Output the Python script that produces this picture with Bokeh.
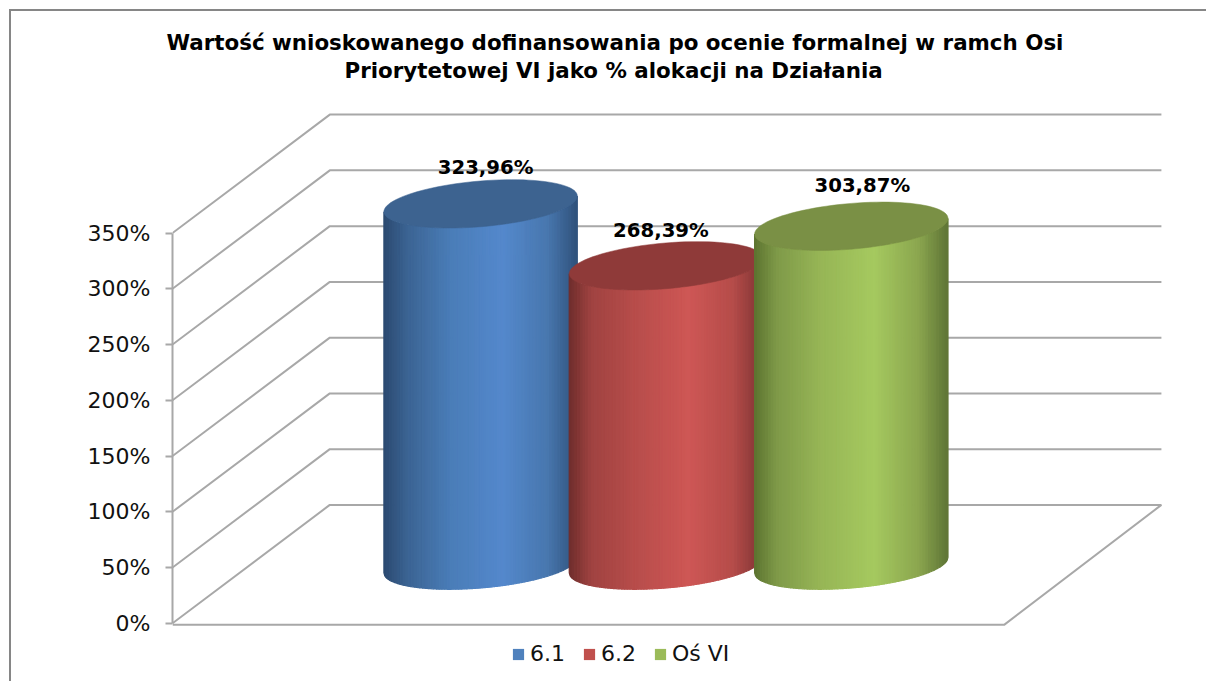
import math
from bokeh.plotting import figure
from bokeh.models import Range1d, LinearAxis, PrintfTickFormatter, FixedTicker, Title, Legend, LegendItem, ColumnDataSource
from bokeh.core.properties import value
from bokeh.embed import file_html
from bokeh.resources import INLINE

# ---- data ----
categories = ["6.1", "6.2", "Oś VI"]
values = [323.96, 268.39, 303.87]
value_labels = ["323,96%", "268,39%", "303,87%"]
tick_values = [0, 50, 100, 150, 200, 250, 300, 350]
title_lines = ["Wartość wnioskowanego dofinansowania po ocenie formalnej w ramch Osi",
               "Priorytetowej VI jako % alokacji na Działania"]

# ---- style ----
FONT = "DejaVu Sans"
OFF = 11                # page pixels in front of the canvas (margin + border)
W, H = 1206 - OFF, 681 - OFF
TOP_PX = 83 - OFF
PX_Y = 1.1114           # pixels per percent
PX_X = 185.0            # pixels per category step
ORIGIN = 479.5          # page x of the first category
LEFT_PX = 172 - OFF
GRID = "#a8a8a8"
legend_colors = ["#4f81bd", "#c0504d", "#9bbb59"]
top_colors = ["#3d6390", "#8f3a39", "#7a9045"]
stops = [
    [(0, "#2b4a70"), (.12, "#3b6392"), (.35, "#4a7db8"), (.62, "#5488cc"), (.85, "#4877ae"), (1, "#30527c")],
    [(0, "#6e2d2c"), (.12, "#a04341"), (.35, "#b84d4b"), (.62, "#ce5755"), (.85, "#b54c4a"), (1, "#7f3433")],
    [(0, "#5c7330"), (.12, "#7f9a49"), (.35, "#97b656"), (.62, "#a5c95f"), (.85, "#8ba64f"), (1, "#5f7536")],
]
DEPTH_X = 157 / PX_X
DEPTH_Y = 118 / PX_Y
RIGHT_X = (1002 - ORIGIN) / PX_X   # right end of the front floor edge
FRONT_X = (172 - ORIGIN) / PX_X    # left end
BASE = (623 - 565) / PX_Y          # height of the cylinder base centre on the floor
RX = 96.5 / PX_X
RY = 22.8 / PX_Y
TILT = 7.8 / PX_Y
label_dx = [5 / PX_X, -5 / PX_X, 11 / PX_X]
label_dy = [36.5 / PX_Y, 35 / PX_Y, 41 / PX_Y]


def hex_rgb(h):
    return [int(h[i:i + 2], 16) for i in (1, 3, 5)]


def shade(stop, f):
    for (a, ca), (b, cb) in zip(stop, stop[1:]):
        if f <= b:
            u = (f - a) / (b - a)
            ra, rb = hex_rgb(ca), hex_rgb(cb)
            return "#%02x%02x%02x" % tuple(round(p + (q - p) * u) for p, q in zip(ra, rb))
    return stop[-1][1]


x_start = FRONT_X
x_end = x_start + (W - LEFT_PX) / PX_X
y_start = -60 / PX_Y
y_end = y_start + (H - TOP_PX) / PX_Y

p = figure(width=W, height=H, output_backend="svg", toolbar_location=None,
           x_range=Range1d(x_start, x_end), y_range=Range1d(y_start, y_end),
           x_axis_location=None, y_axis_location=None,
           min_border_left=LEFT_PX, min_border_right=0, min_border_top=TOP_PX, min_border_bottom=0,
           margin=(9, 0, 0, 9),
           styles={"border-left": "2px solid #868686", "border-top": "2px solid #868686",
                   "box-sizing": "content-box"})
p.outline_line_color = None
p.grid.visible = False
p.background_fill_color = "white"

# 3-D walls
gx, gy = [], []
for v in tick_values:
    gx.append([FRONT_X, FRONT_X + DEPTH_X, FRONT_X + DEPTH_X + (RIGHT_X - FRONT_X)])
    gy.append([v, v + DEPTH_Y, v + DEPTH_Y])
p.multi_line(gx, gy, line_color=GRID, line_width=2)
p.line([FRONT_X, RIGHT_X, RIGHT_X + DEPTH_X], [-1.4, -1.4, DEPTH_Y], line_color=GRID, line_width=2)

# legend keys: flat bars of zero width, hidden under the cylinders
rs = [p.quad(left=[i], right=[i], top=[BASE + values[i]], bottom=[BASE], fill_color=c, line_color=None)
      for i, c in enumerate(legend_colors)]

# cylinders
N = 70
for i, val in enumerate(values):
    xs, ys, cols = [], [], []
    top = BASE + val
    for s in range(N):
        f0, f1 = s / N, (s + 1) / N
        x0, x1 = -1 + 2 * f0, -1 + 2 * f1
        ps = [x0 + (x1 - x0) * j / 3 for j in range(4)]
        low = [TILT * q - RY * math.sqrt(max(0, 1 - q * q)) for q in ps]
        xs.append([i + RX * q for q in ps] + [i + RX * q for q in reversed(ps)])
        ys.append([BASE + l for l in low] + [top + l for l in reversed(low)])
        cols.append(shade(stops[i], (f0 + f1) / 2))
    p.patches(xs, ys, fill_color=cols, line_color=cols, line_width=1.2)
    ts = [2 * math.pi * k / 96 for k in range(96)]
    p.patch([i + RX * math.cos(t) for t in ts],
            [top + TILT * math.cos(t) + RY * math.sin(t) for t in ts],
            fill_color=top_colors[i], line_color=top_colors[i], line_width=0.5)

# data labels
src = ColumnDataSource(dict(
    x=[i + label_dx[i] for i in range(3)],
    y=[BASE + values[i] + label_dy[i] for i in range(3)],
    t=value_labels))
p.text("x", "y", text="t", source=src, text_align="center", text_baseline="middle",
       text_font=value(FONT), text_font_style="bold", text_font_size="19.7px", text_color="black")

# value axis
ax = LinearAxis(ticker=FixedTicker(ticks=tick_values), formatter=PrintfTickFormatter(format="%d%%"),
                bounds=(0, 350))
ax.axis_line_color = GRID
ax.axis_line_width = 2
ax.major_tick_line_color = GRID
ax.major_tick_line_width = 2
ax.major_tick_out = 7
ax.major_tick_in = 0
ax.minor_tick_line_color = None
ax.major_label_standoff = 15
ax.major_label_text_font = FONT
ax.major_label_text_font_size = "22px"
ax.major_label_text_color = "#111111"
p.add_layout(ax, "left")

# legend
leg = Legend(items=[LegendItem(label=c, renderers=[r]) for c, r in zip(categories, rs)],
             orientation="horizontal", location=(339, 17), glyph_width=14, glyph_height=14,
             label_standoff=5, spacing=17, padding=0, margin=0,
             border_line_color=None, background_fill_alpha=0,
             label_text_font=FONT, label_text_font_size="22px", label_text_color="#111111")
p.add_layout(leg, "center")

# title (the last added sits farthest from the plot area)
for line, off in zip(reversed(title_lines), [172, -6]):
    p.add_layout(Title(text=line, align="left", offset=off, standoff=1,
                       text_font=FONT, text_font_style="bold", text_font_size="21.4px",
                       text_color="black"), "above")

open("out.html", "w").write(file_html(p, INLINE))
